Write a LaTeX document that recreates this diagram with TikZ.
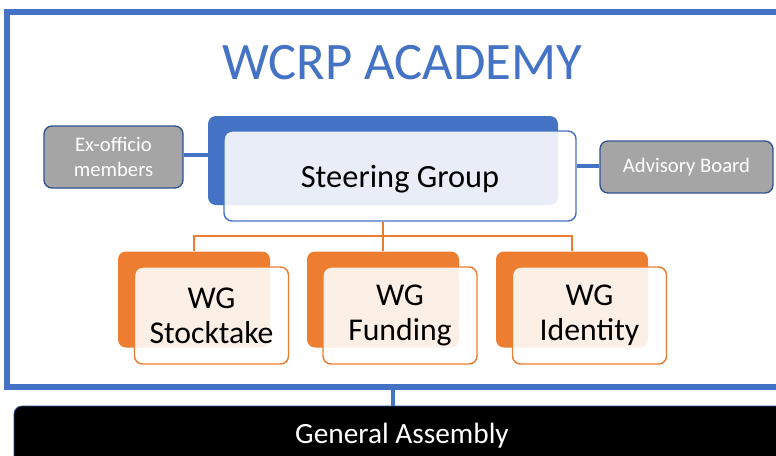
\documentclass[tikz,border=0pt]{standalone}
\usepackage{fontspec}
\setmainfont{Carlito}
\definecolor{accblue}{HTML}{4472C4}
\definecolor{darkblue}{HTML}{2F528F}
\definecolor{accorange}{HTML}{ED7D31}
\definecolor{boxgray}{HTML}{A5A5A5}
\begin{document}
\begin{tikzpicture}[x=0.75pt,y=-0.75pt,
  backbox/.style={rectangle,rounded corners=6pt,inner sep=0pt},
  frontbox/.style={rectangle,rounded corners=6pt,inner sep=0pt,fill=white,fill opacity=0.88,text opacity=1,line width=1.1pt,align=center},
  graybox/.style={rectangle,rounded corners=6pt,inner sep=0pt,fill=boxgray,draw=darkblue,line width=1pt,text=white,align=center,font=\fontsize{15.5}{19}\selectfont},
  wgtext/.style={font=\fontsize{23.8}{26}\selectfont},
  blueline/.style={draw=accblue,line width=3pt},
  orangeline/.style={draw=accorange,line width=1.1pt}]
\useasboundingbox (0,0) rectangle (776,455);
\clip (0,0) rectangle (776,455);
\fill[white] (0,0) rectangle (776,455);
% outer frame
\node[rectangle,draw=accblue,line width=3.8pt,minimum width=594.75pt,minimum height=281.25pt,inner sep=0pt] (frame) at (403.5,199.5) {};
% title
\node[text=accblue,font=\fontsize{39.5}{44}\selectfont,inner sep=0pt] (title) at (402,63) {WCRP ACADEMY};
% steering group
\node[backbox,fill=accblue,minimum width=262.5pt,minimum height=66.75pt] (sgB) at (383,160.5) {};
\node[frontbox,draw=accblue,minimum width=264pt,minimum height=67.5pt,font=\fontsize{24.3}{28}\selectfont,text depth=0pt] (sgF) at (400,176) {Steering Group};
% side boxes
\node[graybox,minimum width=104.25pt,minimum height=46.5pt] (ex) at (113.5,157) {Ex-officio\\members};
\node[graybox,minimum width=129.75pt,minimum height=39pt] (adv) at (686.5,167) {Advisory Board};
\draw[blueline] (ex.east |- 0,155) -- (sgB.west |- 0,155);
\draw[blueline] (adv.west |- 0,166) -- (sgF.east |- 0,166);
% working groups
\node[backbox,fill=accorange,minimum width=114pt,minimum height=72pt] (wg1b) at (194,299.5) {};
\node[backbox,fill=accorange,minimum width=114pt,minimum height=72pt] (wg2b) at (383,299.5) {};
\node[backbox,fill=accorange,minimum width=114pt,minimum height=72pt] (wg3b) at (572,299.5) {};
\node[frontbox,draw=accorange,minimum width=115.5pt,minimum height=72.75pt,wgtext] (wg1f) at (211.5,315.5) {WG\\Stocktake};
\node[frontbox,draw=accorange,minimum width=115.5pt,minimum height=72.75pt,wgtext] (wg2f) at (400,315.5) {WG\\Funding};
\node[frontbox,draw=accorange,minimum width=115.5pt,minimum height=72.75pt,wgtext] (wg3f) at (589.5,315.5) {WG\\Identity};
\coordinate (bus) at (383,236);
\draw[orangeline] (sgB.center |- sgF.south) -- (bus);
\draw[orangeline] (wg1b.north) |- (bus) -| (wg3b.north);
\draw[orangeline] (bus) -- (wg2b.north);
% general assembly
\node[rectangle,rounded corners=6pt,fill=black,draw=darkblue,line width=0.6pt,minimum width=582pt,minimum height=45pt,inner sep=0pt,text=white,font=\fontsize{22}{26}\selectfont] (ga) at (402,436) {General Assembly};
\coordinate (gtop) at (393,388);
\draw[blueline] (gtop) -- (gtop |- ga.north);
\end{tikzpicture}
\end{document}
